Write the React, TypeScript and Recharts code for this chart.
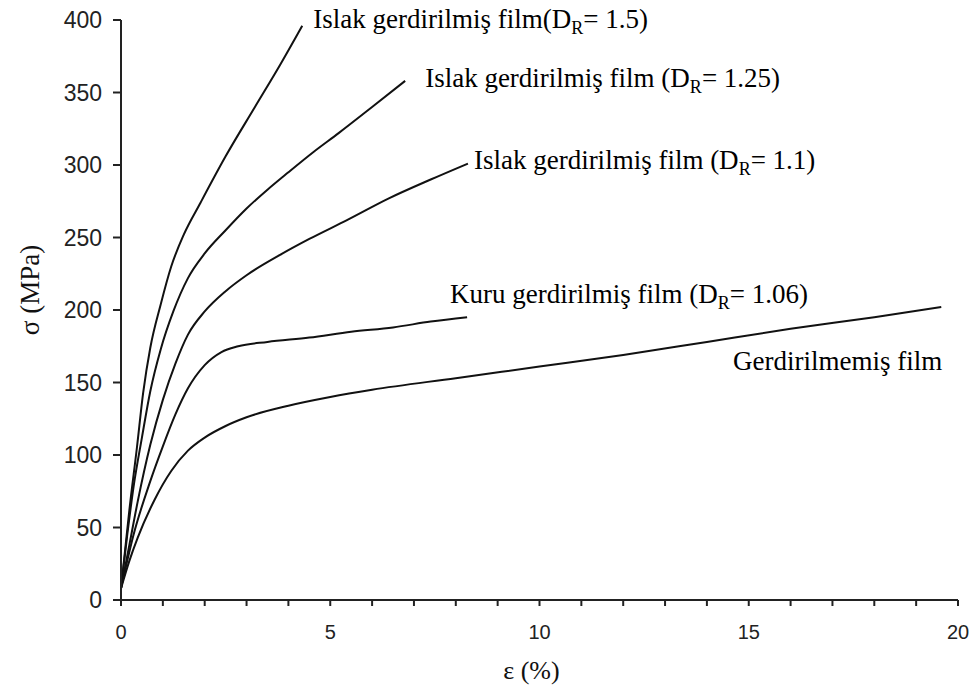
import React from 'react';
import { LineChart, Line, XAxis, YAxis, ReferenceDot } from 'recharts';

// strain (%) and stress (MPa)
const wet15Strain = [0, 0.1, 0.2, 0.38, 0.53, 0.7, 0.95, 1.2, 1.5, 1.9, 2.5, 3.2, 3.8, 4.33];
const wet15Stress = [8, 35, 62, 105, 143, 174, 204, 230, 252, 274, 306, 340, 369, 396];

const wet125Strain = [0, 0.15, 0.3, 0.5, 0.7, 0.95, 1.25, 1.6, 2.0, 2.5, 3.0, 3.5, 4.0, 4.6, 5.2, 6.0, 6.79];
const wet125Stress = [8, 45, 78, 112, 144, 173, 199, 222, 239, 255, 270, 283, 295, 309, 322, 340, 358];

const wet11Strain = [0, 0.2, 0.4, 0.7, 1.0, 1.3, 1.6, 2.0, 2.5, 3.0, 3.8, 4.5, 5.4, 6.4, 7.4, 8.29];
const wet11Stress = [8, 38, 68, 107, 138, 163, 183, 199, 213, 224, 238, 249, 262, 277, 290, 301];

const dryStrain = [0, 0.3, 0.7, 1.0, 1.3, 1.6, 2.0, 2.4, 2.8, 3.5, 4.5, 5.5, 6.5, 7.4, 8.27];
const dryStress = [8, 45, 82, 106, 128, 146, 162, 171, 175, 178, 181, 185, 188, 192, 195];

const plainStrain = [0, 0.2, 0.4, 0.8, 1.2, 1.6, 2.0, 2.5, 3.0, 4.0, 5.0, 6.0, 8.0, 10, 12, 14, 16, 18, 19.6];
const plainStress = [8, 27, 43, 69, 89, 103, 112, 120, 126, 134, 140, 145, 153, 161, 169, 178, 187, 195, 202];

const xTicks = [0, 1, 2, 3, 4, 5, 6, 7, 8, 9, 10, 11, 12, 13, 14, 15, 16, 17, 18, 19, 20];
const xLabelTicks = [0, 5, 10, 15, 20];
const yTicks = [0, 50, 100, 150, 200, 250, 300, 350, 400];

const toPoints = (xs: number[], ys: number[]) => xs.map((x, i) => ({ x, y: ys[i] }));

const series = [
  { name: 'Islak gerdirilmiş film', dr: '1.5', gap: '', data: toPoints(wet15Strain, wet15Stress), dx: 11, dy: 2, anchor: 'start' },
  { name: 'Islak gerdirilmiş film', dr: '1.25', gap: ' ', data: toPoints(wet125Strain, wet125Stress), dx: 20, dy: 6, anchor: 'start' },
  { name: 'Islak gerdirilmiş film', dr: '1.1', gap: ' ', data: toPoints(wet11Strain, wet11Stress), dx: 6, dy: 5, anchor: 'start' },
  { name: 'Kuru gerdirilmiş film', dr: '1.06', gap: ' ', data: toPoints(dryStrain, dryStress), dx: -17, dy: -14, anchor: 'start' },
  { name: 'Gerdirilmemiş film', dr: null, gap: '', data: toPoints(plainStrain, plainStress), dx: 1, dy: 63, anchor: 'end' },
];

const SERIF = '"Liberation Serif", "Times New Roman", serif';
const SANS = '"Liberation Sans", Arial, sans-serif';
const ANNOT_SIZE = 27;

const XTick = (props: any) => {
  const { x, y, payload } = props;
  if (!xLabelTicks.includes(payload.value)) return <g />;
  return (
    <text x={x} y={y} dy={15} textAnchor="middle" fontSize={20} fontFamily={SANS} fill="#222">
      {payload.value}
    </text>
  );
};

const makeLabel = (s: typeof series[number]) => (props: any) => {
  const vb = props.viewBox || {};
  const cx = (vb.x ?? 0) + (vb.width ?? 0) / 2;
  const cy = (vb.y ?? 0) + (vb.height ?? 0) / 2;
  return (
    <text x={cx + s.dx} y={cy + s.dy} textAnchor={s.anchor} fontSize={ANNOT_SIZE} fontFamily={SERIF} fill="#000">
      {s.dr ? (
        <>
          {`${s.name}${s.gap}(D`}
          <tspan dy={6} fontSize={18}>R</tspan>
          <tspan dy={-6}>{`= ${s.dr})`}</tspan>
        </>
      ) : (
        s.name
      )}
    </text>
  );
};

const YAxisTitle = (props: any) => {
  const vb = props.viewBox;
  const x = 30;
  const y = vb.y + vb.height / 2 - 20;
  return (
    <text x={x} y={y} transform={`rotate(-90, ${x}, ${y})`} textAnchor="middle" dominantBaseline="central" fontSize={27} fontFamily={SERIF} fill="#111">
      σ (MPa)
    </text>
  );
};

const XAxisTitle = (props: any) => {
  const vb = props.viewBox;
  const x = vb.x + vb.width / 2 - 8;
  return (
    <text x={x} y={679} textAnchor="middle" fontSize={26} fontFamily={SERIF} fill="#111">
      ε (%)
    </text>
  );
};

export default function App() {
  return (
    <div style={{ position: 'absolute', left: 0, top: 0, background: '#fff' }}>
      <LineChart width={976} height={688} margin={{ top: 20, right: 18, bottom: 0, left: 0 }}>
        <XAxis
          dataKey="x"
          type="number"
          domain={[0, 20]}
          ticks={xTicks}
          interval={0}
          allowDuplicatedCategory={false}
          height={88}
          tickSize={6}
          tickMargin={18}
          tick={<XTick />}
          axisLine={{ stroke: '#222', strokeWidth: 2 }}
          tickLine={{ stroke: '#222', strokeWidth: 2 }}
          label={{ content: XAxisTitle }}
        />
        <YAxis
          type="number"
          domain={[0, 400]}
          ticks={yTicks}
          interval={0}
          width={121}
          tickSize={8}
          tickMargin={11}
          tick={{ fontSize: 23, fontFamily: SANS, fill: '#222' }}
          axisLine={{ stroke: '#222', strokeWidth: 2 }}
          tickLine={{ stroke: '#222', strokeWidth: 2 }}
          label={{ content: YAxisTitle }}
        />
        {series.map((s, i) => (
          <Line
            key={i}
            data={s.data}
            dataKey="y"
            type="monotone"
            stroke="#111"
            strokeWidth={2}
            dot={false}
            activeDot={false}
            isAnimationActive={false}
          />
        ))}
        {series.map((s, i) => {
          const last = s.data[s.data.length - 1];
          return (
            <ReferenceDot
              key={`lbl-${i}`}
              x={last.x}
              y={last.y}
              r={0.5}
              fill="none"
              stroke="none"
              label={makeLabel(s)}
            />
          );
        })}
      </LineChart>
    </div>
  );
}
